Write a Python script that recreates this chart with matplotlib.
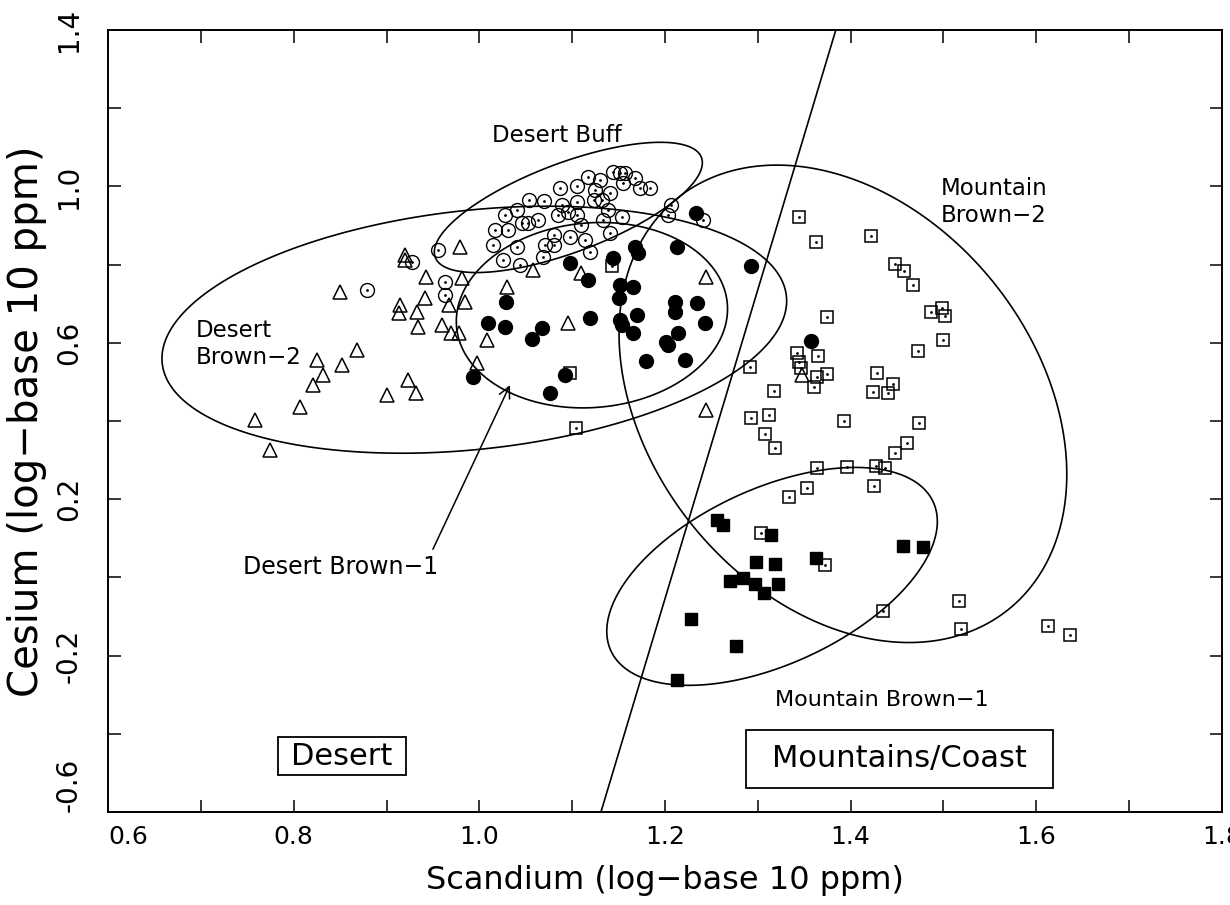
import numpy as np
import matplotlib.pyplot as plt
from matplotlib.patches import Rectangle

plt.rcParams['axes.unicode_minus'] = False
plt.rcParams['font.family'] = ['DejaVu Sans']

# ---- data (log10 ppm) ----
# Desert Buff: open circles with a centre dot
buff_x = [0.879, 0.928, 0.955, 0.963, 0.963, 1.017, 1.031, 1.015, 1.026, 1.041,
          1.044, 1.028, 1.041, 1.046, 1.052, 1.063, 1.053, 1.070, 1.069, 1.071,
          1.080, 1.080, 1.085, 1.087, 1.089, 1.095, 1.098, 1.105, 1.105, 1.105,
          1.109, 1.114, 1.117, 1.119, 1.123, 1.125, 1.130, 1.132, 1.133, 1.139,
          1.141, 1.141, 1.144, 1.152, 1.157, 1.154, 1.155, 1.168, 1.173, 1.184,
          1.206, 1.203, 1.241]
buff_y = [0.735, 0.807, 0.837, 0.756, 0.722, 0.889, 0.889, 0.850, 0.812, 0.845,
          0.799, 0.927, 0.940, 0.906, 0.906, 0.914, 0.965, 0.963, 0.819, 0.850,
          0.876, 0.850, 0.927, 0.996, 0.952, 0.935, 0.871, 1.001, 0.960, 0.927,
          0.901, 0.863, 1.024, 0.832, 0.965, 0.991, 1.016, 0.965, 0.914, 0.940,
          0.983, 0.881, 1.037, 1.034, 1.034, 0.922, 1.009, 1.022, 0.996, 0.996,
          0.952, 0.927, 0.914]

# Desert Brown-1: filled circles
db1_x = [0.993, 1.009, 1.028, 1.029, 1.057, 1.068, 1.076, 1.092, 1.098, 1.117,
         1.119, 1.144, 1.151, 1.150, 1.152, 1.154, 1.166, 1.166, 1.168, 1.171,
         1.170, 1.179, 1.201, 1.203, 1.211, 1.211, 1.213, 1.214, 1.222, 1.235,
         1.243, 1.233, 1.293, 1.357]
db1_y = [0.513, 0.651, 0.640, 0.704, 0.610, 0.638, 0.472, 0.518, 0.804, 0.761,
         0.663, 0.817, 0.748, 0.715, 0.658, 0.646, 0.743, 0.625, 0.845, 0.830,
         0.671, 0.553, 0.602, 0.594, 0.704, 0.679, 0.845, 0.625, 0.556, 0.702,
         0.651, 0.932, 0.796, 0.605]

# Desert Brown-2: open triangles
db2_x = [0.758, 0.775, 0.807, 0.821, 0.832, 0.825, 0.852, 0.868, 0.850, 0.920,
         0.920, 0.901, 0.923, 0.932, 0.915, 0.913, 0.933, 0.934, 0.942, 0.943,
         0.960, 0.967, 0.969, 0.978, 0.985, 0.981, 0.979, 1.008, 0.998, 1.030,
         1.058, 1.109, 1.096, 1.244, 1.244, 1.348]
db2_y = [0.403, 0.326, 0.436, 0.492, 0.518, 0.556, 0.543, 0.582, 0.730, 0.825,
         0.812, 0.467, 0.505, 0.472, 0.697, 0.676, 0.679, 0.640, 0.715, 0.768,
         0.646, 0.697, 0.625, 0.625, 0.704, 0.766, 0.845, 0.607, 0.548, 0.743,
         0.786, 0.779, 0.651, 0.768, 0.428, 0.518]

# Mountain Brown-2: open squares with a centre dot
mb2_x = [1.344, 1.363, 1.422, 1.448, 1.457, 1.467, 1.374, 1.486, 1.498, 1.502,
         1.499, 1.473, 1.342, 1.365, 1.344, 1.346, 1.364, 1.375, 1.360, 1.428,
         1.446, 1.424, 1.440, 1.292, 1.317, 1.293, 1.312, 1.308, 1.319, 1.393,
         1.474, 1.461, 1.448, 1.364, 1.396, 1.427, 1.437, 1.334, 1.353, 1.425,
         1.303, 1.372, 1.435, 1.517, 1.519, 1.613, 1.636, 1.143, 1.098, 1.104]
mb2_y = [0.922, 0.858, 0.873, 0.802, 0.784, 0.748, 0.666, 0.679, 0.689, 0.669,
         0.607, 0.579, 0.574, 0.566, 0.551, 0.536, 0.513, 0.520, 0.487, 0.523,
         0.495, 0.474, 0.472, 0.538, 0.477, 0.408, 0.415, 0.367, 0.331, 0.400,
         0.395, 0.344, 0.318, 0.280, 0.282, 0.285, 0.280, 0.206, 0.229, 0.234,
         0.114, 0.032, -0.086, -0.060, -0.132, -0.124, -0.147, 0.796, 0.523, 0.382]

# Mountain Brown-1: filled squares
mb1_x = [1.256, 1.262, 1.314, 1.298, 1.319, 1.363, 1.270, 1.284, 1.297, 1.322,
         1.307, 1.456, 1.478, 1.228, 1.276, 1.213]
mb1_y = [0.147, 0.134, 0.108, 0.039, 0.034, 0.050, -0.009, -0.002, -0.017, -0.017,
         -0.040, 0.080, 0.078, -0.106, -0.175, -0.262]

# group outlines: points traced along each ellipse in the picture
buff_edge_x = [0.965, 1.008, 1.080, 1.184, 1.240, 1.224, 1.152, 1.080, 1.008]
buff_edge_y = [0.807, 0.973, 1.060, 1.103, 1.055, 0.973, 0.889, 0.819, 0.768]
db1_edge_x = [0.976, 0.990, 1.044, 1.130, 1.213, 1.260, 1.267, 1.260, 1.227, 1.152, 1.080, 0.990]
db1_edge_y = [0.633, 0.735, 0.863, 0.914, 0.863, 0.735, 0.676, 0.600, 0.505, 0.446, 0.461, 0.513]
db2_edge_x = [0.665, 0.731, 0.839, 0.947, 1.055, 1.162, 1.252, 1.324, 1.337, 1.324,
              1.274, 1.109, 0.947, 0.839, 0.731]
db2_edge_y = [0.556, 0.768, 0.889, 0.927, 0.935, 0.922, 0.896, 0.804, 0.735, 0.633,
              0.543, 0.382, 0.308, 0.318, 0.395]
mb2_edge_x = [1.159, 1.170, 1.195, 1.238, 1.303, 1.389, 1.526, 1.597, 1.629, 1.615,
              1.526, 1.454, 1.310, 1.224, 1.179]
mb2_edge_y = [0.676, 0.845, 0.991, 1.020, 1.020, 1.000, 0.845, 0.633, 0.267, 0.070,
              -0.135, -0.168, -0.058, 0.152, 0.339]
mb1_edge_x = [1.130, 1.159, 1.202, 1.224, 1.310, 1.381, 1.435, 1.472, 1.489, 1.475,
              1.435, 1.396, 1.310, 1.230, 1.173, 1.141]
mb1_edge_y = [-0.150, -0.032, 0.078, 0.155, 0.241, 0.275, 0.280, 0.231, 0.129, 0.011,
              -0.091, -0.152, -0.229, -0.275, -0.255, -0.204]

# desert / mountains divide
divide_x = [1.131, 1.384]
divide_y = [-0.6, 1.4]

x_ticks = [0.6, 0.8, 1.0, 1.2, 1.4, 1.6, 1.8]
x_tick_labels = ['0.6', '0.8', '1.0', '1.2', '1.4', '1.6', '1.8']
y_ticks = [-0.6, -0.2, 0.2, 0.6, 1.0, 1.4]
y_tick_labels = ['-0.6', '-0.2', '0.2', '0.6', '1.0', '1.4']


def fit_conic(xs, ys):
    xs = np.asarray(xs)
    ys = np.asarray(ys)
    d = np.column_stack([xs**2, xs*ys, ys**2, xs, ys, np.ones_like(xs)])
    return np.linalg.svd(d)[2][-1]


fig = plt.figure(figsize=(12.3, 9.05), dpi=100)
ax = fig.add_axes([108/1230, 1 - 812/905, 1114/1230, 782/905])

# ellipses around the groups
gx, gy = np.meshgrid(np.linspace(0.6, 1.8, 1400), np.linspace(-0.6, 1.4, 1400))
for ex, ey in [(buff_edge_x, buff_edge_y), (db1_edge_x, db1_edge_y),
               (db2_edge_x, db2_edge_y), (mb2_edge_x, mb2_edge_y),
               (mb1_edge_x, mb1_edge_y)]:
    a, b, c, d, e, f = fit_conic(ex, ey)
    z = a*gx**2 + b*gx*gy + c*gy**2 + d*gx + e*gy + f
    ax.contour(gx, gy, z, levels=[0], colors='k', linewidths=1.2)

ax.plot(divide_x, divide_y, color='k', lw=1.2)

# points
ax.plot(db2_x, db2_y, ls='none', marker='^', ms=10, mfc='none', mec='k', mew=1.1)
ax.plot(buff_x, buff_y, ls='none', marker='o', ms=10, mfc='none', mec='k', mew=1.0)
ax.plot(buff_x, buff_y, ls='none', marker='.', ms=2, color='k')
ax.plot(mb2_x, mb2_y, ls='none', marker='s', ms=9, mfc='none', mec='k', mew=1.1)
ax.plot(mb2_x, mb2_y, ls='none', marker='.', ms=2, color='k')
ax.plot(db1_x, db1_y, ls='none', marker='o', ms=10, color='k')
ax.plot(mb1_x, mb1_y, ls='none', marker='s', ms=9, color='k')

# labels
ax.text(1.083, 1.129, 'Desert Buff', fontsize=16.5, ha='center', va='center')
ax.text(1.497, 0.960, 'Mountain\nBrown\u22122', fontsize=16.5, ha='left', va='center',
        linespacing=1.2)
ax.text(0.694, 0.597, 'Desert\nBrown\u22122', fontsize=16.5, ha='left', va='center',
        linespacing=1.2)
ax.text(1.434, -0.314, 'Mountain Brown\u22121', fontsize=16, ha='center', va='center')
ax.text(0.850, 0.027, 'Desert Brown\u22121', fontsize=17, ha='center', va='center')
ax.annotate('', xy=(1.033, 0.492), xytext=(0.950, 0.072),
            arrowprops=dict(arrowstyle='->', color='k', lw=1.1,
                            shrinkA=0, shrinkB=0, mutation_scale=20))

# boxed region names
ax.add_patch(Rectangle((0.783, -0.505), 0.138, 0.097, fill=False, ec='k', lw=1.3))
ax.text(0.852, -0.457, 'Desert', fontsize=22, ha='center', va='center')
ax.add_patch(Rectangle((1.2875, -0.539), 0.3305, 0.149, fill=False, ec='k', lw=1.3))
ax.text(1.453, -0.462, 'Mountains/Coast', fontsize=22, ha='center', va='center')

ax.set_xlim(0.6, 1.8)
ax.set_ylim(-0.6, 1.4)
ax.set_xticks(x_ticks)
ax.set_xticklabels(x_tick_labels)
ax.set_xticks(np.arange(0.7, 1.8, 0.2), minor=True)
ax.set_yticks(y_ticks)
ax.set_yticklabels(y_tick_labels, rotation=90, va='center')
ax.set_yticks(np.arange(-0.4, 1.4, 0.4), minor=True)
ax.tick_params(which='both', direction='in', top=True, right=True, length=9, width=1.1)
ax.tick_params(axis='x', labelsize=18, pad=9)
ax.tick_params(axis='y', labelsize=20, pad=18)
ax.get_xticklabels()[0].set_horizontalalignment('left')
ax.get_yticklabels()[0].set_verticalalignment('bottom')
for s in ax.spines.values():
    s.set_linewidth(1.4)

ax.set_xlabel('Scandium (log\u2212base 10 ppm)', fontsize=23, labelpad=12)
ax.set_ylabel('Cesium (log\u2212base 10 ppm)', fontsize=29, labelpad=6)

fig.savefig('out.png', dpi=100)
